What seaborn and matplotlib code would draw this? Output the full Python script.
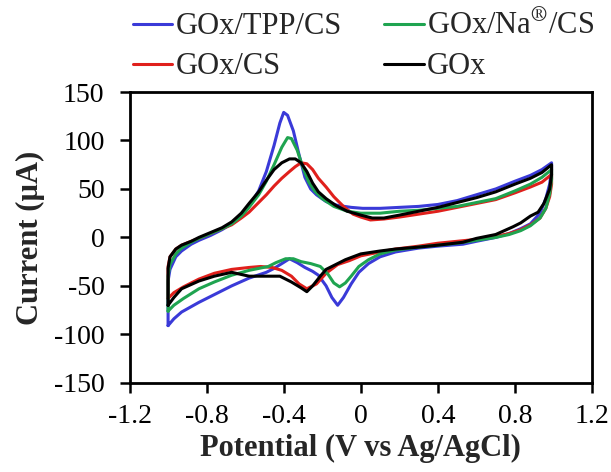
import numpy as np
import pandas as pd
import matplotlib
matplotlib.use("Agg")
import matplotlib.pyplot as plt
import seaborn as sns

# ---- data (potential V, current uA), traced around each CV loop ----
tpp_v = [-1.00, -1.00, -0.99, -0.96, -0.93, -0.88, -0.84, -0.78, -0.72, -0.67, -0.62, -0.58, -0.53, -0.49,
         -0.45, -0.42, -0.40, -0.38, -0.35, -0.32, -0.29, -0.26, -0.23, -0.18, -0.12, -0.05, 0.01, 0.10,
         0.20, 0.30, 0.40, 0.50, 0.60, 0.70, 0.80, 0.88, 0.94, 0.99,
         0.99, 0.98, 0.96, 0.93, 0.88, 0.83, 0.77, 0.70, 0.60, 0.53, 0.40, 0.30, 0.18, 0.10, 0.04, -0.01,
         -0.05, -0.09, -0.12, -0.15, -0.18, -0.22, -0.25, -0.29, -0.33, -0.37, -0.41, -0.45, -0.49, -0.58,
         -0.67, -0.75, -0.84, -0.93, -0.97, -1.00]
tpp_i = [-91, -45, -33, -20, -14, -7, -3, 2, 8, 14, 22, 32, 48, 68,
         95, 118, 129, 126, 110, 85, 62, 50, 44, 37, 33, 31, 30, 30,
         31, 32, 34, 38, 44, 50, 58, 64, 70, 77,
         70, 55, 40, 25, 14, 9, 4, 0, -4, -7, -9, -11, -15, -20, -27, -36,
         -48, -62, -70, -62, -50, -39, -35, -31, -26, -22, -27, -32, -36, -42,
         -50, -58, -67, -77, -84, -91]

na_v = [-1.00, -1.00, -0.99, -0.96, -0.93, -0.88, -0.84, -0.78, -0.72, -0.67, -0.62, -0.58, -0.53, -0.49,
        -0.45, -0.41, -0.38, -0.36, -0.33, -0.30, -0.27, -0.24, -0.20, -0.14, -0.07, 0.00, 0.10,
        0.20, 0.30, 0.40, 0.50, 0.60, 0.70, 0.80, 0.88, 0.94, 0.99,
        0.99, 0.98, 0.96, 0.93, 0.88, 0.83, 0.77, 0.70, 0.60, 0.50, 0.40, 0.30, 0.18, 0.10, 0.04, -0.01,
        -0.05, -0.08, -0.11, -0.14, -0.17, -0.21, -0.26, -0.31, -0.35, -0.39, -0.44, -0.48, -0.58,
        -0.67, -0.76, -0.84, -0.92, -0.97, -1.00]
na_i = [-76, -40, -28, -17, -11, -5, -1, 4, 9, 14, 22, 31, 44, 58,
        75, 93, 103, 102, 90, 72, 57, 48, 40, 32, 27, 25, 25,
        27, 28, 30, 32, 36, 40, 48, 55, 62, 70,
        60, 45, 30, 20, 12, 7, 3, 0, -3, -6, -8, -10, -13, -17, -23, -30,
        -40, -47, -51, -47, -38, -30, -27, -25, -22, -22, -26, -30, -34,
        -39, -46, -53, -63, -70, -76]

cs_v = [-1.00, -1.00, -0.99, -0.96, -0.93, -0.88, -0.84, -0.78, -0.72, -0.67, -0.62, -0.58, -0.53, -0.49,
        -0.45, -0.41, -0.37, -0.34, -0.31, -0.28, -0.25, -0.22, -0.18, -0.14, -0.09, -0.04, 0.00, 0.05,
        0.12, 0.20, 0.30, 0.40, 0.50, 0.60, 0.70, 0.80, 0.88, 0.94, 0.99,
        0.99, 0.98, 0.96, 0.93, 0.88, 0.83, 0.77, 0.70, 0.60, 0.50, 0.40, 0.30, 0.18, 0.10, 0.00,
        -0.06, -0.12, -0.18, -0.23, -0.28, -0.32, -0.36, -0.41, -0.46, -0.52, -0.58, -0.67,
        -0.76, -0.84, -0.92, -0.97, -1.00]
cs_i = [-63, -30, -20, -12, -8, -4, -1, 4, 9, 13, 20, 26, 36, 44,
        53, 61, 68, 73, 77, 76, 70, 61, 52, 42, 32, 24, 21, 18,
        19, 21, 24, 27, 31, 35, 39, 46, 52, 57, 65,
        55, 42, 30, 20, 13, 8, 4, 1, -2, -4, -6, -9, -12, -15, -19,
        -24, -28, -37, -48, -53, -48, -40, -34, -31, -30, -31, -33,
        -37, -43, -51, -57, -63]

gox_v = [-1.00, -1.00, -0.99, -0.96, -0.93, -0.88, -0.84, -0.78, -0.72, -0.67, -0.62, -0.58, -0.53, -0.49,
         -0.45, -0.41, -0.37, -0.34, -0.31, -0.28, -0.25, -0.22, -0.18, -0.13, -0.07, 0.00, 0.06,
         0.12, 0.20, 0.30, 0.40, 0.50, 0.60, 0.70, 0.80, 0.88, 0.94, 0.99,
         0.99, 0.98, 0.95, 0.92, 0.88, 0.83, 0.79, 0.70, 0.60, 0.53, 0.40, 0.30, 0.18, 0.10, 0.00,
         -0.08, -0.14, -0.18, -0.21, -0.25, -0.28, -0.31, -0.36, -0.42, -0.50, -0.58, -0.67,
         -0.76, -0.84, -0.93, -0.97, -1.00]
gox_i = [-70, -32, -20, -12, -8, -4, 0, 5, 10, 16, 25, 35, 47, 59,
         70, 77, 81, 81, 77, 68, 56, 47, 40, 33, 27, 23, 20,
         20, 23, 27, 31, 36, 41, 47, 55, 61, 67, 75,
         65, 50, 35, 26, 22, 15, 11, 3, -1, -5, -8, -10, -12, -14, -17,
         -23, -29, -33, -40, -50, -56, -52, -46, -40, -40, -40, -36,
         -40, -45, -53, -62, -70]

labels = ["GOx/TPP/CS", "GOx/CS", r"GOx/Na$^{\circledR}$/CS", "GOx"]
colors = ["#3a3ad8", "#e0201c", "#1fa450", "#000000"]
x_ticks = [-1.2, -0.8, -0.4, 0, 0.4, 0.8, 1.2]
x_tick_labels = ["-1.2", "-0.8", "-0.4", "0", "0.4", "0.8", "1.2"]
y_ticks = [-150, -100, -50, 0, 50, 100, 150]
y_tick_labels = ["-150", "-100", "-50", "0", "50", "100", "150"]

frames = []
for lab, v, i in zip(labels, [tpp_v, cs_v, na_v, gox_v], [tpp_i, cs_i, na_i, gox_i]):
    frames.append(pd.DataFrame({"V": v, "I": i, "sample": lab}))
df = pd.concat(frames, ignore_index=True)

sns.set_style("white")
plt.rcParams["font.family"] = ["Liberation Serif", "DejaVu Serif"]
plt.rcParams["mathtext.fontset"] = "stix"

fig = plt.figure(figsize=(6.11, 4.72), dpi=100)
ax = fig.add_axes([0.212, 0.189, 0.757, 0.616])

sns.lineplot(data=df, x="V", y="I", hue="sample", hue_order=labels,
             palette=dict(zip(labels, colors)), sort=False, estimator=None,
             units="sample", linewidth=2.2, ax=ax, legend=True)

ax.set_xlim(-1.2, 1.2)
ax.set_ylim(-150, 150)
ax.set_xticks(x_ticks)
ax.set_xticklabels(x_tick_labels)
ax.set_yticks(y_ticks)
ax.set_yticklabels(y_tick_labels)
ax.tick_params(axis="both", which="major", direction="out", length=7, width=1.8,
               labelsize=20, color="black", labelcolor="black",
               bottom=True, left=True)
ax.tick_params(axis="y", pad=11)
ax.tick_params(axis="x", pad=8)
for s in ax.spines.values():
    s.set_color("black")
    s.set_linewidth(2.0)

ax.set_xlabel("Potential (V vs Ag/AgCl)", fontsize=22, fontweight="bold", labelpad=4)
ax.set_ylabel("Current (\u00b5A)", fontsize=22, fontweight="bold", labelpad=6)

handles, labs = ax.get_legend_handles_labels()
ax.get_legend().remove()
fig.legend(handles, labs, ncol=2, loc="upper left", bbox_to_anchor=(0.207, 0.99),
           frameon=False, fontsize=22, handlelength=1.3, handletextpad=0.1,
           columnspacing=1.4, labelspacing=0.36, borderaxespad=0.0, borderpad=0.2)

fig.savefig("out.png", dpi=100)
